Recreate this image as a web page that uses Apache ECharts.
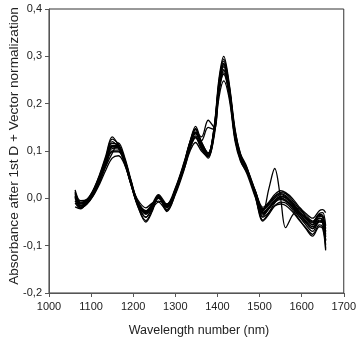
<!DOCTYPE html>
<html>
<head>
<meta charset="utf-8">
<script src="https://cdn.jsdelivr.net/npm/echarts@6/dist/echarts.min.js"></script>
<style>
  html, body { margin: 0; padding: 0; background: #fff; }
  #chart { width: 359px; height: 349px; }
</style>
</head>
<body>
<div id="chart"></div>
<script>
// Wavelength sampling points (nm) shared by every spectrum
const wavelengths = [1062,1075,1090,1105,1120,1135,1150,1165,1180,1195,1210,1230,1245,1260,1280,1300,1320,1335,1348,1362,1378,1392,1404,1415,1428,1442,1455,1470,1490,1508,1522,1536,1550,1562,1578,1594,1610,1626,1642,1650,1657];

// First-derivative, vector-normalised absorbance spectra
const spec01 = [0.018,-0.005,-0.002,0.018,0.05,0.09,0.13,0.112,0.08,0.03,-0.015,-0.047,-0.025,0.006,-0.024,0.014,0.07,0.12,0.152,0.12,0.095,0.15,0.255,0.3,0.242,0.145,0.092,0.062,0.006,-0.046,-0.03,-0.01,0.002,-0.004,-0.018,-0.038,-0.056,-0.07,-0.05,-0.052,-0.106];
const spec02 = [-0.01,-0.02,-0.012,0.005,0.03,0.06,0.085,0.09,0.07,0.03,-0.002,-0.02,-0.01,-0.006,-0.012,0.016,0.06,0.1,0.118,0.1,0.088,0.13,0.215,0.248,0.21,0.12,0.078,0.055,0.015,-0.019,-0.008,0.008,0.016,0.012,0.0,-0.018,-0.032,-0.042,-0.026,-0.024,-0.03];
const spec03 = [0.005,-0.015,-0.008,0.012,0.04,0.078,0.11,0.108,0.078,0.032,-0.01,-0.032,-0.018,0.002,-0.018,0.018,0.068,0.112,0.138,0.112,0.092,0.142,0.24,0.282,0.23,0.135,0.088,0.06,0.012,-0.032,-0.02,-0.006,0.0,-0.004,-0.016,-0.034,-0.048,-0.06,-0.042,-0.048,-0.07];
const spec04 = [0.0,-0.018,-0.01,0.008,0.035,0.068,0.095,0.117,0.086,0.038,-0.005,-0.028,-0.015,0.003,-0.015,0.012,0.062,0.108,0.132,0.108,0.09,0.138,0.232,0.272,0.228,0.132,0.086,0.062,0.015,-0.026,-0.012,0.004,0.012,0.01,-0.004,-0.022,-0.036,-0.048,-0.032,-0.03,-0.058];
const spec05 = [-0.018,-0.022,-0.008,0.01,0.038,0.072,0.1,0.1,0.072,0.028,-0.012,-0.04,-0.022,-0.008,-0.026,0.008,0.058,0.105,0.13,0.105,0.085,0.135,0.228,0.265,0.22,0.125,0.08,0.052,0.002,-0.04,-0.03,-0.016,-0.012,-0.015,-0.028,-0.046,-0.062,-0.076,-0.056,-0.06,-0.098];
const spec06 = [0.012,-0.008,-0.004,0.014,0.044,0.082,0.12,0.108,0.076,0.028,-0.012,-0.04,-0.022,0.006,-0.02,0.018,0.07,0.115,0.145,0.115,0.095,0.148,0.245,0.29,0.235,0.138,0.09,0.062,0.008,-0.038,-0.022,-0.006,0.004,0.0,-0.014,-0.032,-0.05,-0.064,-0.046,-0.05,-0.09];
const spec07 = [0.008,-0.012,-0.005,0.015,0.045,0.08,0.112,0.11,0.08,0.035,-0.008,-0.03,-0.015,0.004,-0.016,0.02,0.072,0.118,0.14,0.13,0.165,0.15,0.232,0.27,0.225,0.13,0.085,0.058,0.01,-0.03,-0.018,-0.004,0.004,0.002,-0.012,-0.03,-0.044,-0.056,-0.038,-0.04,-0.082];
const spec08 = [0.002,-0.015,-0.007,0.01,0.038,0.074,0.105,0.104,0.078,0.033,-0.007,-0.03,-0.016,0.0,-0.017,0.015,0.066,0.112,0.14,0.112,0.09,0.14,0.235,0.278,0.228,0.132,0.086,0.058,0.01,-0.028,0.02,0.063,0.0,-0.062,-0.036,-0.02,-0.04,-0.056,-0.042,-0.046,-0.076];
const spec09 = [-0.005,-0.02,-0.012,0.006,0.034,0.07,0.098,0.098,0.074,0.03,-0.006,-0.026,-0.012,0.0,-0.014,0.016,0.064,0.106,0.128,0.105,0.088,0.136,0.228,0.262,0.218,0.125,0.084,0.058,0.014,-0.022,-0.01,0.004,0.01,0.006,-0.008,-0.026,-0.04,-0.05,-0.034,-0.036,-0.064];
const spec10 = [0.014,-0.01,-0.004,0.016,0.048,0.086,0.125,0.115,0.082,0.034,-0.014,-0.05,-0.028,0.004,-0.028,0.01,0.066,0.118,0.148,0.116,0.094,0.146,0.25,0.294,0.238,0.142,0.094,0.066,0.004,-0.048,-0.034,-0.016,-0.008,-0.01,-0.024,-0.044,-0.064,-0.08,-0.06,-0.064,-0.11];
const spec11 = [0.004,-0.016,-0.009,0.011,0.041,0.076,0.108,0.106,0.076,0.03,-0.01,-0.034,-0.019,0.002,-0.019,0.017,0.069,0.114,0.136,0.122,0.15,0.145,0.238,0.284,0.232,0.136,0.088,0.06,0.009,-0.034,-0.022,-0.008,-0.002,-0.006,-0.02,-0.038,-0.052,-0.064,-0.048,-0.052,-0.088];
const spec12 = [0.01,-0.01,-0.003,0.016,0.046,0.084,0.116,0.112,0.082,0.036,-0.006,-0.028,-0.012,0.008,-0.012,0.022,0.074,0.12,0.146,0.118,0.096,0.145,0.242,0.285,0.232,0.138,0.09,0.064,0.016,-0.024,-0.014,0.0,0.008,0.004,-0.01,-0.028,-0.042,-0.052,-0.036,-0.04,-0.07];

const spectra = [spec01, spec02, spec03, spec04, spec05, spec06, spec07, spec08, spec09, spec10, spec11, spec12];

// Axis ranges and tick steps
const xTicks = [1000, 1100, 1200, 1300, 1400, 1500, 1600, 1700];
const yTicks = [-0.2, -0.1, 0.0, 0.1, 0.2, 0.3, 0.4];

const xTitle = 'Wavelength number (nm)';
const yTitle = 'Absorbance after 1st D + Vector normalization';

const narrow = "'Liberation Sans Narrow', 'Arial Narrow', 'Liberation Sans', Arial, sans-serif";
const regular = "'Liberation Sans', Arial, sans-serif";

const chart = echarts.init(document.getElementById('chart'), null, { renderer: 'canvas' });

const axisLineStyle = { color: '#555', width: 1 };

chart.setOption({
  animation: false,
  backgroundColor: '#fff',
  grid: {
    left: 49, right: 10, top: 9, bottom: 56,
    show: true, borderColor: '#333', borderWidth: 1, backgroundColor: 'transparent'
  },
  xAxis: {
    type: 'value',
    min: xTicks[0],
    max: xTicks[xTicks.length - 1],
    interval: xTicks[1] - xTicks[0],
    axisLine: { show: true, onZero: false, lineStyle: axisLineStyle },
    axisTick: { show: true, inside: false, length: 4, lineStyle: axisLineStyle },
    splitLine: { show: false },
    axisLabel: {
      margin: 8, color: '#222', fontFamily: narrow, fontSize: 11,
      formatter: v => String(v)
    }
  },
  yAxis: {
    type: 'value',
    min: yTicks[0],
    max: yTicks[yTicks.length - 1],
    interval: 0.1,
    axisLine: { show: true, onZero: false, lineStyle: axisLineStyle },
    axisTick: { show: true, inside: false, length: 4, lineStyle: axisLineStyle },
    splitLine: { show: false },
    axisLabel: {
      margin: 7, color: '#222', fontFamily: narrow, fontSize: 11,
      formatter: v => (Math.round(v * 10) / 10).toFixed(1).replace('.', ',')
    }
  },
  graphic: [
    {
      type: 'text', x: 199, y: 331,
      style: {
        text: xTitle, fill: '#222', font: '12.5px ' + narrow,
        textAlign: 'center', textVerticalAlign: 'middle'
      }
    },
    {
      type: 'text', x: 14.5, y: 146, rotation: Math.PI / 2,
      style: {
        text: yTitle, fill: '#222', font: '13.6px ' + regular,
        textAlign: 'center', textVerticalAlign: 'middle'
      }
    }
  ],
  series: spectra.map((vals, i) => ({
    name: 'spectrum ' + (i + 1),
    type: 'line',
    data: wavelengths.map((w, j) => [w, vals[j]]),
    smooth: 0.35,
    showSymbol: false,
    symbol: 'none',
    lineStyle: { color: '#000', width: 1.3 },
    silent: true
  }))
});
</script>
</body>
</html>
